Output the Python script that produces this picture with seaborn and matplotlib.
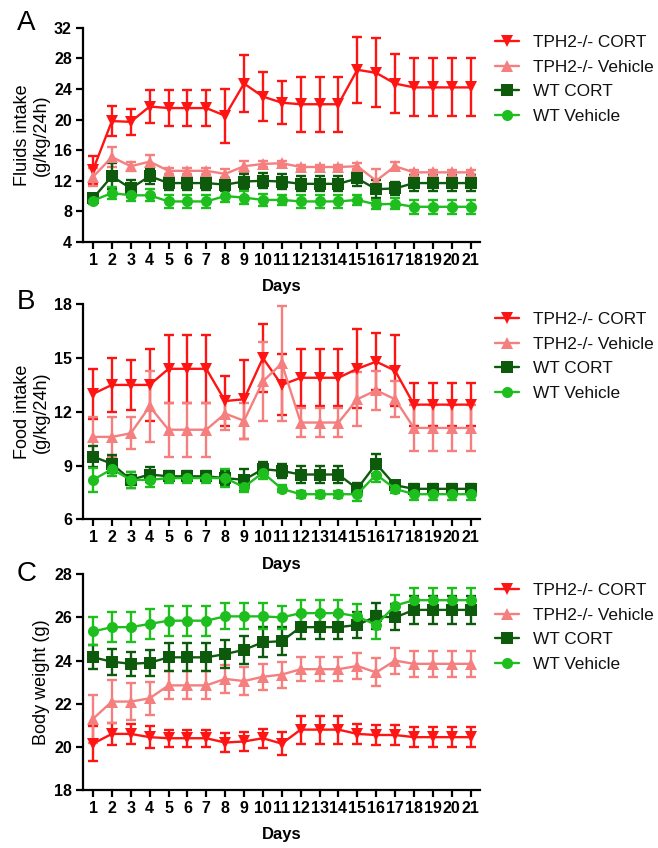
import matplotlib
matplotlib.use("Agg")
import matplotlib.pyplot as plt
import seaborn as sns

sns.set_style("ticks")
plt.rcParams['font.family'] = ['Liberation Sans', 'DejaVu Sans']
plt.rcParams['text.color'] = 'black'
plt.rcParams['axes.labelcolor'] = 'black'
plt.rcParams['xtick.color'] = 'black'
plt.rcParams['ytick.color'] = 'black'

# ---------------------------------------------------------------
# Data (means and SEM)
# ---------------------------------------------------------------
days = list(range(1, 22))
groups = ['TPH2-/- CORT', 'TPH2-/- Vehicle', 'WT CORT', 'WT Vehicle']
colors = ['#FF1414', '#F57F7F', '#0D5A0D', '#1EBE1E']
markers = ['v', '^', 's', 'o']

# Panel A: fluids intake
fluid_ko_cort = [13.4, 19.8, 19.7, 21.7, 21.5, 21.5, 21.5, 20.5, 24.7, 23.0, 22.2,
                 22.0, 22.0, 22.0, 26.5, 26.1, 24.7, 24.2, 24.2, 24.2, 24.2]
fluid_ko_cort_sem = [1.8, 2.0, 1.7, 2.1, 2.4, 2.4, 2.4, 3.5, 3.7, 3.2, 2.8,
                     3.6, 3.6, 3.6, 4.3, 4.5, 3.9, 3.8, 3.8, 3.8, 3.8]
fluid_ko_veh = [12.5, 15.1, 13.9, 14.5, 13.3, 13.3, 13.3, 12.9, 13.9, 14.2, 14.3,
                13.8, 13.8, 13.8, 13.9, 12.0, 13.9, 13.1, 13.1, 13.1, 13.1]
fluid_ko_veh_sem = [1.2, 1.3, 0.6, 0.9, 0.4, 0.4, 0.4, 0.7, 0.7, 0.4, 0.3,
                    0.3, 0.3, 0.3, 0.4, 1.5, 0.5, 0.3, 0.3, 0.3, 0.3]
fluid_wt_cort = [9.7, 12.6, 11.0, 12.6, 11.7, 11.7, 11.7, 11.5, 11.9, 12.0, 11.9,
                 11.6, 11.6, 11.6, 12.3, 10.9, 11.0, 11.7, 11.7, 11.7, 11.7]
fluid_wt_cort_sem = [0.5, 1.7, 1.1, 1.0, 0.9, 0.9, 0.9, 0.8, 1.0, 1.0, 1.0,
                     1.0, 1.0, 1.0, 1.0, 1.2, 0.8, 1.0, 1.0, 1.0, 1.0]
fluid_wt_veh = [9.4, 10.4, 10.1, 10.1, 9.3, 9.3, 9.3, 10.0, 9.8, 9.5, 9.5,
                9.3, 9.3, 9.3, 9.5, 8.9, 9.0, 8.6, 8.6, 8.6, 8.6]
fluid_wt_veh_sem = [0.5, 0.8, 0.8, 0.8, 0.8, 0.8, 0.8, 0.8, 0.9, 0.8, 0.7,
                    0.8, 0.8, 0.8, 0.7, 0.6, 0.7, 0.9, 0.9, 0.9, 0.9]

# Panel B: food intake
food_ko_cort = [13.0, 13.5, 13.5, 13.5, 14.4, 14.4, 14.4, 12.6, 12.7, 15.0, 13.5,
                13.9, 13.9, 13.9, 14.4, 14.8, 14.3, 12.4, 12.4, 12.4, 12.4]
food_ko_cort_sem = [1.4, 1.5, 1.4, 2.0, 1.9, 1.9, 1.9, 1.4, 2.2, 1.9, 1.7,
                    1.6, 1.6, 1.6, 2.2, 1.6, 2.0, 1.2, 1.2, 1.2, 1.2]
food_ko_veh = [10.6, 10.6, 10.8, 12.3, 11.0, 11.0, 11.0, 11.9, 11.5, 13.7, 14.7,
               11.4, 11.4, 11.4, 12.7, 13.2, 12.7, 11.1, 11.1, 11.1, 11.1]
food_ko_veh_sem = [1.1, 1.1, 0.9, 2.0, 1.5, 1.5, 1.5, 0.9, 1.0, 2.2, 3.2,
                   0.8, 0.8, 0.8, 1.5, 1.1, 1.0, 1.3, 1.3, 1.3, 1.3]
food_wt_cort = [9.5, 9.1, 8.2, 8.5, 8.4, 8.4, 8.4, 8.3, 8.2, 8.8, 8.7,
                8.5, 8.5, 8.5, 7.7, 9.1, 7.9, 7.7, 7.7, 7.7, 7.7]
food_wt_cort_sem = [0.6, 0.5, 0.45, 0.4, 0.3, 0.3, 0.3, 0.4, 0.6, 0.4, 0.4,
                    0.5, 0.5, 0.5, 0.35, 0.55, 0.25, 0.25, 0.25, 0.25, 0.25]
food_wt_veh = [8.2, 8.8, 8.2, 8.2, 8.3, 8.3, 8.3, 8.3, 7.8, 8.6, 7.7,
               7.4, 7.4, 7.4, 7.4, 8.5, 7.7, 7.4, 7.4, 7.4, 7.4]
food_wt_veh_sem = [0.65, 0.4, 0.45, 0.4, 0.3, 0.3, 0.3, 0.5, 0.3, 0.35, 0.2,
                   0.2, 0.2, 0.2, 0.4, 0.4, 0.25, 0.3, 0.3, 0.3, 0.3]

# Panel C: body weight
bw_ko_cort = [20.15, 20.6, 20.6, 20.45, 20.4, 20.4, 20.4, 20.2, 20.25, 20.4, 20.15,
              20.8, 20.8, 20.8, 20.6, 20.55, 20.55, 20.45, 20.45, 20.45, 20.45]
bw_ko_cort_sem = [0.8, 0.5, 0.45, 0.5, 0.4, 0.4, 0.4, 0.45, 0.45, 0.45, 0.55,
                  0.65, 0.65, 0.65, 0.45, 0.45, 0.45, 0.45, 0.45, 0.45, 0.45]
bw_ko_veh = [21.3, 22.1, 22.1, 22.25, 22.85, 22.85, 22.85, 23.15, 23.05, 23.25, 23.35,
             23.6, 23.6, 23.6, 23.75, 23.45, 24.0, 23.85, 23.85, 23.85, 23.85]
bw_ko_veh_sem = [1.1, 1.0, 0.85, 0.75, 0.65, 0.65, 0.65, 0.65, 0.65, 0.6, 0.6,
                 0.55, 0.55, 0.55, 0.6, 0.65, 0.6, 0.6, 0.6, 0.6, 0.6]
bw_wt_cort = [24.15, 23.95, 23.85, 23.9, 24.15, 24.15, 24.15, 24.3, 24.5, 24.85, 24.9,
              25.55, 25.55, 25.55, 25.65, 26.05, 26.0, 26.35, 26.35, 26.35, 26.35]
bw_wt_cort_sem = [0.55, 0.6, 0.55, 0.6, 0.65, 0.65, 0.65, 0.65, 0.65, 0.7, 0.65,
                  0.55, 0.55, 0.55, 0.6, 0.6, 0.6, 0.65, 0.65, 0.65, 0.65]
bw_wt_veh = [25.35, 25.55, 25.55, 25.7, 25.85, 25.85, 25.85, 26.05, 26.05, 26.05, 26.0,
             26.2, 26.2, 26.2, 26.05, 25.65, 26.55, 26.8, 26.8, 26.8, 26.8]
bw_wt_veh_sem = [0.65, 0.7, 0.7, 0.7, 0.7, 0.7, 0.7, 0.6, 0.6, 0.6, 0.55,
                 0.6, 0.6, 0.6, 0.55, 0.65, 0.5, 0.55, 0.55, 0.55, 0.55]

# ---------------------------------------------------------------
# Figure
# ---------------------------------------------------------------
W, H = 658, 848
fig = plt.figure(figsize=(W / 100, H / 100), dpi=100)


def px_axes(left, top, right, bottom):
    return fig.add_axes([left / W, 1 - bottom / H, (right - left) / W, (bottom - top) / H])


def draw_panel(ax, means, sems, ylim, step, ylabel, letter, letter_y, legend_y):
    for g, m, s, c, mk in zip(groups, means, sems, colors, markers):
        ax.errorbar(days, m, yerr=s, fmt='none', ecolor=c, elinewidth=1.7,
                    capsize=3.8, capthick=1.7, zorder=2)
        sns.lineplot(x=days, y=m, color=c, marker=mk, markersize=8,
                     markeredgewidth=0, linewidth=1.7, label=g, ax=ax, zorder=3)

    ax.set_xlim(0.47, 21.5)
    ax.set_ylim(*ylim)
    ax.set_xticks(days)
    ax.set_yticks(list(range(ylim[0], ylim[1] + 1, step)))
    sns.despine(ax=ax)
    for sp in ['left', 'bottom']:
        ax.spines[sp].set_linewidth(1.6)
        ax.spines[sp].set_color('black')
    ax.tick_params(axis='both', direction='out', length=5, width=1.6,
                   labelsize=11.5, color='black', labelcolor='black', pad=3)
    for lab in ax.get_xticklabels() + ax.get_yticklabels():
        lab.set_fontweight('bold')
    ax.set_xlabel('Days', fontsize=12, fontweight='bold', labelpad=8)
    ax.set_ylabel(ylabel, fontsize=13, labelpad=3, linespacing=1.15)

    handles, labels = ax.get_legend_handles_labels()
    ax.legend(handles, labels, loc='upper left',
              bbox_to_anchor=(495 / W, 1 - legend_y / H),
              bbox_transform=fig.transFigure, frameon=False, fontsize=12.4,
              borderpad=0, borderaxespad=0, handlelength=1.4,
              handletextpad=0.8, labelspacing=0.55, labelcolor='#111111')
    fig.text(17 / W, 1 - letter_y / H, letter, fontsize=20, va='top', ha='left')


axA = px_axes(83, 27.7, 480, 242)
draw_panel(axA,
           [fluid_ko_cort, fluid_ko_veh, fluid_wt_cort, fluid_wt_veh],
           [fluid_ko_cort_sem, fluid_ko_veh_sem, fluid_wt_cort_sem, fluid_wt_veh_sem],
           (4, 32), 4, 'Fluids intake\n(g/kg/24h)', 'A', 10, 35)

axB = px_axes(83, 304.3, 480, 519.3)
draw_panel(axB,
           [food_ko_cort, food_ko_veh, food_wt_cort, food_wt_veh],
           [food_ko_cort_sem, food_ko_veh_sem, food_wt_cort_sem, food_wt_veh_sem],
           (6, 18), 3, 'Food intake\n(g/kg/24h)', 'B', 289, 312)

axC = px_axes(83, 574.3, 480, 790)
draw_panel(axC,
           [bw_ko_cort, bw_ko_veh, bw_wt_cort, bw_wt_veh],
           [bw_ko_cort_sem, bw_ko_veh_sem, bw_wt_cort_sem, bw_wt_veh_sem],
           (18, 28), 2, 'Body weight (g)', 'C', 561, 583)

fig.savefig('out.png', dpi=100)
